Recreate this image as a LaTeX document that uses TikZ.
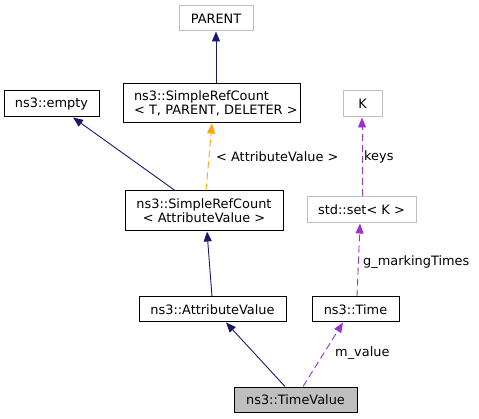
\documentclass[tikz,border=0pt]{standalone}
\usepackage{fontspec}
\setmainfont{DejaVu Sans}
\usetikzlibrary{arrows.meta}
\definecolor{navy}{HTML}{191970}
\definecolor{orng}{HTML}{FFA500}
\definecolor{purp}{HTML}{9A32CD}
\definecolor{gborder}{HTML}{BFBFBF}
\definecolor{tvfill}{HTML}{BFBFBF}
\begin{document}
\begin{tikzpicture}[x=1pt,y=-1pt,
  every node/.style={font=\fontsize{12.9}{14.2}\selectfont, inner sep=0pt},
  cls/.style={draw=black, line width=1pt, rectangle, fill=white},
  ext/.style={draw=gborder, line width=1pt, rectangle, fill=white},
  inh/.style={draw=navy, line width=0.9pt, -{Triangle[length=10pt,width=8pt]}},
  tmpl/.style={draw=orng, line width=0.9pt, dash pattern=on 7pt off 4pt, -{Triangle[length=10pt,width=8pt]}},
  usage/.style={draw=purp, line width=0.9pt, dash pattern=on 7pt off 4pt, -{Triangle[length=10pt,width=8pt]}},
  lbl/.style={anchor=west}
]
\useasboundingbox (0,0) rectangle (479,419);
\node[ext, minimum width=74pt, minimum height=25pt] (parent) at (216,18.5) {PARENT};
\node[cls, minimum width=177pt, minimum height=39pt, align=left, text width=175pt] (srcT) at (211.5,103.5) {\hspace*{10pt}ns3::SimpleRefCount\\\hspace*{10pt}< T, PARENT, DELETER >};
\node[cls, minimum width=95pt, minimum height=26pt] (empty) at (51.5,104) {ns3::empty};
\node[cls, minimum width=158pt, minimum height=40pt, align=center] (srcAV) at (204,211) {ns3::SimpleRefCount\\< AttributeValue >};
\node[cls, minimum width=147pt, minimum height=25pt] (av) at (212.5,309.5) {ns3::AttributeValue};
\node[cls, minimum width=87pt, minimum height=25pt] (time) at (355.5,309.5) {ns3::Time};
\node[cls, fill=tvfill, minimum width=123pt, minimum height=25pt] (tv) at (295.5,399.5) {ns3::TimeValue};
\node[ext, minimum width=109pt, minimum height=26pt] (set) at (361.5,210) {std::set< K >};
\node[ext, minimum width=39pt, minimum height=26pt] (k) at (362.5,104) {K};

\draw[inh] ([xshift=4.5pt]srcT.north) -- (parent.south);
\draw[inh] ([xshift=-29pt]srcAV.north) -- ([xshift=21.5pt]empty.south);
\draw[tmpl] ([xshift=2pt]srcAV.north) -- ([xshift=0.5pt]srcT.south);
\draw[inh] ([xshift=-0.5pt]av.north) -- ([xshift=3pt]srcAV.south);
\draw[inh] ([xshift=-10.5pt]tv.north) -- ([xshift=13.5pt]av.south);
\draw[usage] ([xshift=7.5pt]tv.north) -- ([xshift=-12.5pt]time.south);
\draw[usage] ([xshift=1.5pt]time.north) -- ([xshift=-1.5pt]set.south);
\draw[usage] ([xshift=0.5pt]set.north) -- ([xshift=-0.5pt]k.south);

\node[lbl] (lt) at (216,157) {< AttributeValue >};
\node[lbl] (lk) at (364,157) {keys};
\node[lbl] (lg) at (363,262) {g\_markingTimes};
\node[lbl] (lm) at (335,353) {m\_value};
\end{tikzpicture}
\end{document}
